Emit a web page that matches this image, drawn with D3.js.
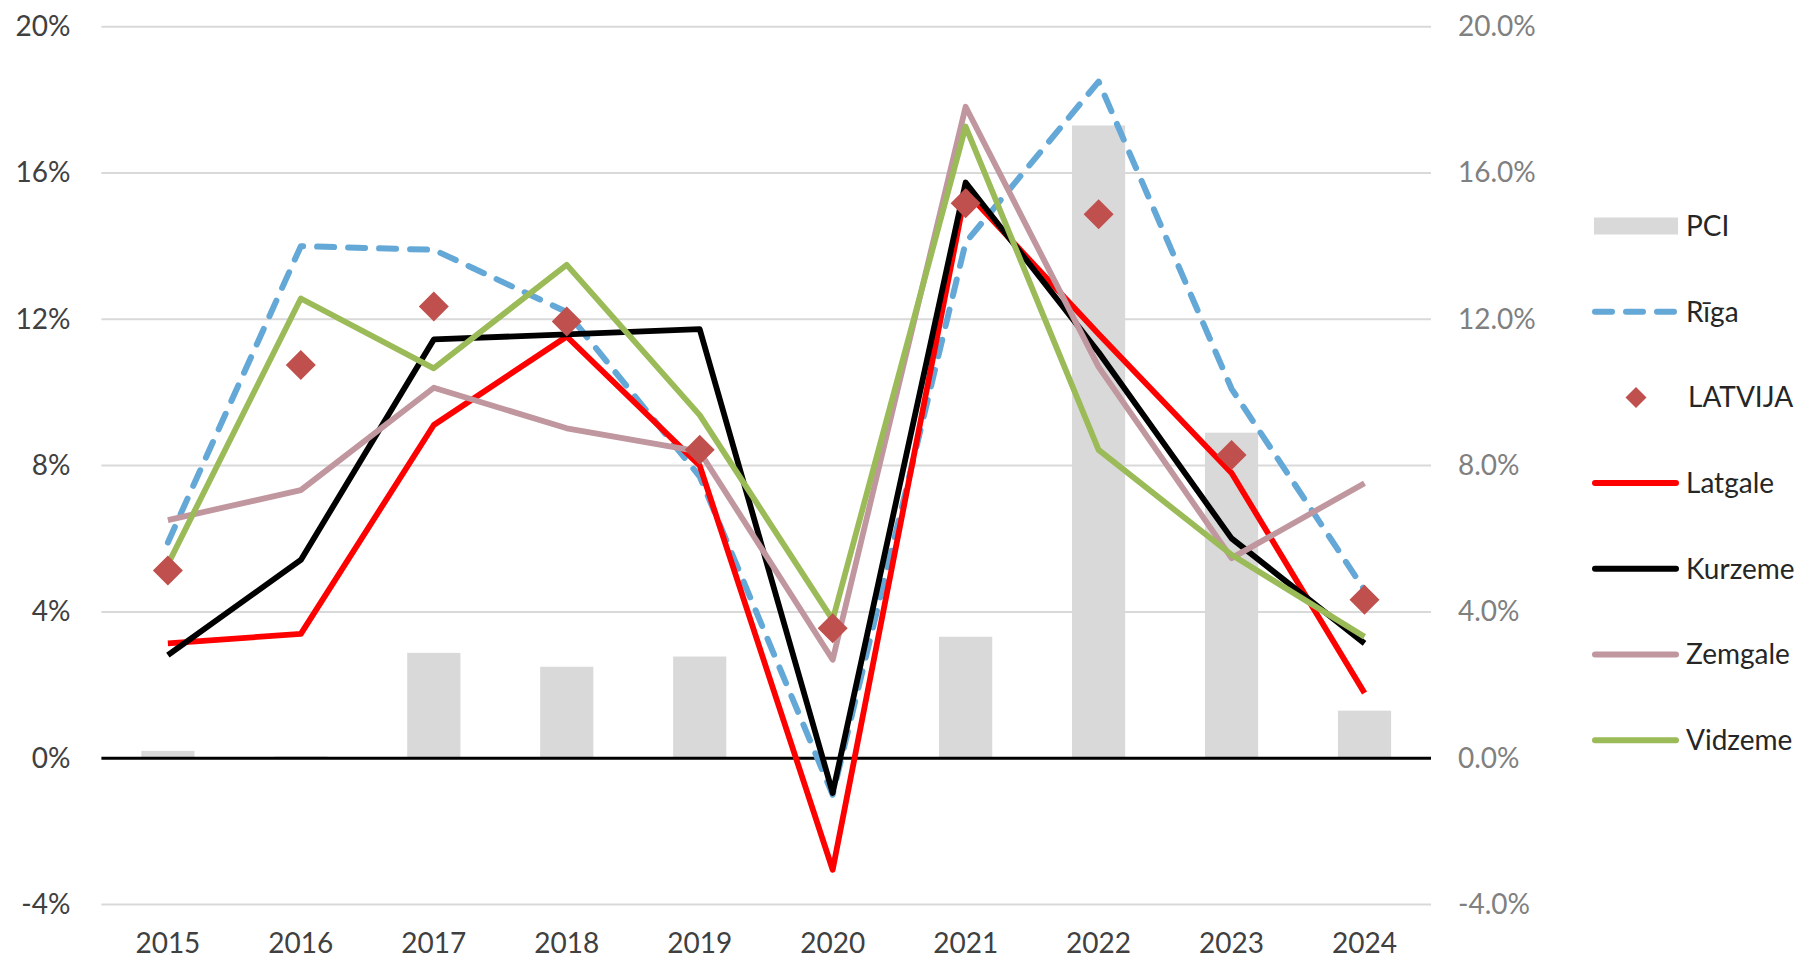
<!DOCTYPE html>
<html>
<head>
<meta charset="utf-8">
<script src="https://cdn.jsdelivr.net/npm/d3@7"></script>
<style>
  html, body { margin: 0; padding: 0; background: #fff; }
  svg { display: block; font-family: Lato, "Liberation Sans", sans-serif; }
</style>
</head>
<body>
<svg id="chart" width="1806" height="961"></svg>
<script>
// ---- data ----
const years = ["2015","2016","2017","2018","2019","2020","2021","2022","2023","2024"];
const pci     = [0.2, 0.05, 2.88, 2.5, 2.78, 0.0, 3.32, 17.3, 8.9, 1.3];
const riga    = [5.9, 14.0, 13.9, 12.2, 7.7, -1.0, 14.1, 18.5, 10.1, 4.6];
const latvija = [5.13, 10.75, 12.35, 11.94, 8.43, 3.55, 15.17, 14.87, 8.29, 4.33];
const latgale = [3.14, 3.40, 9.11, 11.53, 8.0, -3.05, 15.5, 11.6, 7.8, 1.78];
const kurzeme = [2.82, 5.42, 11.45, 11.59, 11.73, -0.95, 15.74, 11.1, 6.01, 3.14];
const zemgale = [6.51, 7.33, 10.13, 9.02, 8.38, 2.69, 17.81, 10.7, 5.47, 7.52];
const vidzeme = [5.3, 12.57, 10.66, 13.49, 9.38, 3.78, 17.27, 8.43, 5.56, 3.32];
const leftTicks  = [-4, 0, 4, 8, 12, 16, 20];
const rightTicks = [-4, 0, 4, 8, 12, 16, 20];
const legendNames = ["PCI", "Rīga", "LATVIJA", "Latgale", "Kurzeme", "Zemgale", "Vidzeme"];

// ---- styles ----
const colors = {
  PCI: "#d9d9d9", "Rīga": "#63a8d6", LATVIJA: "#c0504d",
  Latgale: "#ff0000", Kurzeme: "#000000", Zemgale: "#c0969f", Vidzeme: "#9bbb59"
};

const svg = d3.select("#chart");
const L = 101.4, R = 1431, T = 26.7, B = 904.5;

const x = d3.scaleBand().domain(years).range([L, R]).paddingInner(0.6).paddingOuter(0.3);
const cx = d => x(d) + x.bandwidth() / 2;
const y = d3.scaleLinear().domain([-4, 20]).range([B, T]);

// gridlines
svg.append("g").selectAll("line")
  .data(leftTicks.filter(t => t !== 0))
  .join("line")
  .attr("x1", L).attr("x2", R)
  .attr("y1", d => y(d)).attr("y2", d => y(d))
  .attr("stroke", "#d9d9d9").attr("stroke-width", 2);

// bars (PCI)
svg.append("g").selectAll("rect")
  .data(years.map((yr, i) => ({ yr, v: pci[i] })))
  .join("rect")
  .attr("x", d => x(d.yr))
  .attr("width", x.bandwidth())
  .attr("y", d => y(Math.max(0, d.v)))
  .attr("height", d => Math.abs(y(d.v) - y(0)))
  .attr("fill", colors.PCI);

// zero line
svg.append("line")
  .attr("x1", L).attr("x2", R)
  .attr("y1", y(0)).attr("y2", y(0))
  .attr("stroke", "#000").attr("stroke-width", 3);

// lines
const lineGen = d3.line().x(d => cx(d.yr)).y(d => y(d.v));
const lineSeries = [
  { name: "Rīga", vals: riga, dash: "17,14", cap: "round", w: 6 },
  { name: "Latgale", vals: latgale, dash: null, cap: "butt", w: 5.8 },
  { name: "Kurzeme", vals: kurzeme, dash: null, cap: "butt", w: 5.8 },
  { name: "Zemgale", vals: zemgale, dash: null, cap: "butt", w: 5.8 },
  { name: "Vidzeme", vals: vidzeme, dash: null, cap: "butt", w: 5.8 }
];
svg.append("g").selectAll("path")
  .data(lineSeries)
  .join("path")
  .attr("d", s => lineGen(years.map((yr, i) => ({ yr, v: s.vals[i] }))))
  .attr("fill", "none")
  .attr("stroke", s => colors[s.name])
  .attr("stroke-width", s => s.w)
  .attr("stroke-linejoin", "round")
  .attr("stroke-linecap", s => s.cap)
  .attr("stroke-dasharray", s => s.dash);

// diamonds (LATVIJA)
const diamond = d3.symbol().type(d3.symbolSquare).size(450);
svg.append("g").selectAll("path")
  .data(years.map((yr, i) => ({ yr, v: latvija[i] })))
  .join("path")
  .attr("d", diamond)
  .attr("transform", d => `translate(${cx(d.yr)},${y(d.v)}) rotate(45)`)
  .attr("fill", colors.LATVIJA);

// axes
const fs = "28px";
const leftAxis = svg.append("g").attr("transform", `translate(${L},0)`)
  .call(d3.axisLeft(y).tickValues(leftTicks).tickFormat(d => d + "%").tickSize(0).tickPadding(31));
leftAxis.select(".domain").remove();
leftAxis.selectAll("text").attr("font-size", fs).attr("fill", "#404040").attr("font-family", "Lato");

const rightAxis = svg.append("g").attr("transform", `translate(${R},0)`)
  .call(d3.axisRight(y).tickValues(rightTicks)
    .tickFormat(d => d3.format(".1f")(d).replace("\u2212", "-") + "%").tickSize(0).tickPadding(27));
rightAxis.select(".domain").remove();
rightAxis.selectAll("text").attr("font-size", fs).attr("fill", "#808080").attr("font-family", "Lato");

const bottomAxis = svg.append("g").attr("transform", `translate(0,${B})`)
  .call(d3.axisBottom(x).tickSize(0));
bottomAxis.select(".domain").remove();
bottomAxis.selectAll("text").attr("font-size", fs).attr("fill", "#404040")
  .attr("font-family", "Lato").attr("y", 48.5).attr("dy", 0);

// legend
const lg = svg.append("g").attr("transform", "translate(1592,226)");
const item = lg.selectAll("g").data(legendNames).join("g")
  .attr("transform", (d, i) => `translate(0,${i * 85.7})`);
item.each(function(name) {
  const g = d3.select(this);
  if (name === "PCI") {
    g.append("rect").attr("x", 2).attr("y", -8.5).attr("width", 84).attr("height", 17).attr("fill", colors.PCI);
  } else if (name === "LATVIJA") {
    g.append("path").attr("d", d3.symbol().type(d3.symbolSquare).size(220)())
      .attr("transform", "translate(44,0) rotate(45)").attr("fill", colors.LATVIJA);
  } else {
    const s = lineSeries.find(e => e.name === name);
    g.append("line").attr("x1", 3).attr("x2", 84).attr("y1", 0).attr("y2", 0)
      .attr("stroke", colors[name]).attr("stroke-width", 6)
      .attr("stroke-linecap", "round")
      .attr("stroke-dasharray", s.dash);
  }
  g.append("text").attr("x", name === "LATVIJA" ? 96 : 94).attr("y", 0).attr("dy", "0.35em")
    .attr("font-size", fs).attr("fill", "#262626").text(name);
});
</script>
</body>
</html>
